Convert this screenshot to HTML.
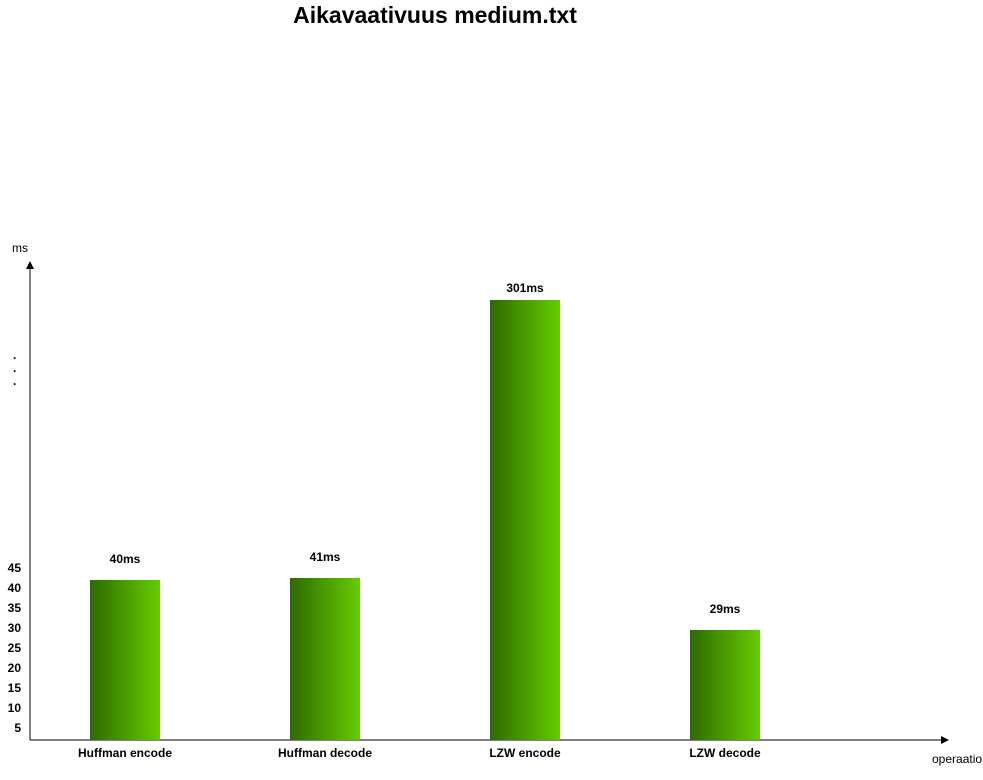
<!DOCTYPE html>
<html><head><meta charset="utf-8"><style>
body{margin:0;background:#fff;width:983px;height:775px;overflow:hidden}
svg text{font-family:"Liberation Sans",Arial,sans-serif}
</style></head><body>
<svg width="983" height="775">
<defs><linearGradient id="g" x1="0" x2="1"><stop offset="0" stop-color="#2e6a00"/><stop offset="1" stop-color="#66cc00"/></linearGradient>
<marker id="ar" markerWidth="8" markerHeight="8" refX="7" refY="4" orient="auto"><path d="M0,0L8,4L0,8z" fill="#000"/></marker></defs>
<text x="435" y="23" text-anchor="middle" font-size="23" font-weight="bold">Aikavaativuus medium.txt</text>
<text x="12" y="252" font-size="12">ms</text>
<text x="932" y="763" font-size="12">operaatio</text>
<line x1="30" y1="740" x2="30" y2="262" stroke="#000" marker-end="url(#ar)"/>
<line x1="30" y1="740" x2="948" y2="740" stroke="#000" marker-end="url(#ar)"/>
<g font-size="12" font-weight="bold"><text x="13" y="359">.</text><text x="13" y="372">.</text><text x="13" y="385">.</text></g>
<g id="ticks"></g><g id="bars"></g>
</svg>
<script>
const categories=["Huffman encode","Huffman decode","LZW encode","LZW decode"];
const values=[40,40.5,301,27.5];
const valueLabels=["40ms","41ms","301ms","29ms"];
const ticks=[5,10,15,20,25,30,35,40,45];
function yScale(v){return v<=45?740-4*v:560-(v-45)*(260/256);}
function xScale(i){return 90+200*i;}
const ns="http://www.w3.org/2000/svg";
const tg=document.getElementById("ticks"),bg=document.getElementById("bars");
ticks.forEach(t=>{const e=document.createElementNS(ns,"text");
e.setAttribute("x",21);e.setAttribute("y",yScale(t)+12);e.setAttribute("text-anchor","end");
e.setAttribute("font-size","12");e.setAttribute("font-weight","bold");e.textContent=t;


tg.appendChild(e);});
values.forEach((v,i)=>{const x=xScale(i),y=yScale(v);
const r=document.createElementNS(ns,"rect");
r.setAttribute("x",x);r.setAttribute("y",y);r.setAttribute("width",70);r.setAttribute("height",740-y);r.setAttribute("fill","url(#g)");


bg.appendChild(r);
const l=document.createElementNS(ns,"text");
l.setAttribute("x",x+35);l.setAttribute("y",y-(v>45?8:17));l.setAttribute("text-anchor","middle");l.setAttribute("font-size","12");l.setAttribute("font-weight","bold");
l.textContent=valueLabels[i];


bg.appendChild(l);
const c=document.createElementNS(ns,"text");
c.setAttribute("x",x+35);c.setAttribute("y",757);c.setAttribute("text-anchor","middle");c.setAttribute("font-size","12");c.setAttribute("font-weight","bold");
c.textContent=categories[i];


bg.appendChild(c);});
</script>
</body></html>
